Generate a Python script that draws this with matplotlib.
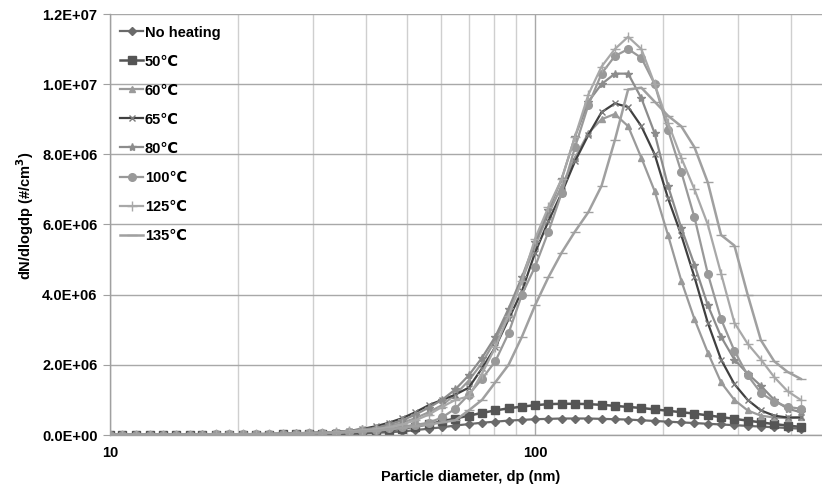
import matplotlib
matplotlib.use("Agg")
import matplotlib.pyplot as plt
from matplotlib.ticker import FixedLocator, FuncFormatter, NullFormatter

plt.rcParams['font.family'] = ['Liberation Sans', 'DejaVu Sans']
plt.rcParams['font.weight'] = 'bold'

# Particle diameter bins (nm)
diameter = [10.0, 10.7, 11.5, 12.4, 13.3, 14.3, 15.4, 16.5, 17.8, 19.1,
            20.5, 22.1, 23.7, 25.5, 27.4, 29.4, 31.6, 34.0, 36.5, 39.2,
            42.2, 45.3, 48.7, 52.3, 56.2, 60.4, 64.9, 69.8, 75.0, 80.6,
            86.6, 93.1, 100.0, 107.5, 115.5, 124.1, 133.4, 143.3, 154.0, 165.5,
            177.8, 191.1, 205.4, 220.7, 237.1, 254.8, 273.8, 294.3, 316.2, 339.8,
            365.2, 392.4, 421.7]

# dN/dlogdp values, in units of 1E+06 #/cm3
no_heating = [0.01, 0.01, 0.01, 0.01, 0.01, 0.01, 0.01, 0.01, 0.01, 0.01,
              0.01, 0.01, 0.01, 0.01, 0.01, 0.02, 0.02, 0.02, 0.03, 0.04,
              0.06, 0.08, 0.10, 0.14, 0.18, 0.22, 0.27, 0.31, 0.35, 0.38,
              0.41, 0.43, 0.45, 0.46, 0.47, 0.47, 0.47, 0.46, 0.45, 0.44,
              0.42, 0.40, 0.38, 0.36, 0.34, 0.32, 0.30, 0.28, 0.26, 0.24,
              0.22, 0.20, 0.18]
t50 = [0.01, 0.01, 0.01, 0.01, 0.01, 0.01, 0.01, 0.01, 0.01, 0.01,
       0.01, 0.01, 0.01, 0.02, 0.02, 0.02, 0.03, 0.03, 0.04, 0.06,
       0.09, 0.13, 0.18, 0.24, 0.31, 0.39, 0.47, 0.55, 0.63, 0.70,
       0.76, 0.81, 0.85, 0.88, 0.89, 0.89, 0.88, 0.86, 0.83, 0.80,
       0.77, 0.73, 0.69, 0.65, 0.61, 0.56, 0.51, 0.46, 0.41, 0.36,
       0.31, 0.27, 0.23]
t60 = [0.01, 0.01, 0.01, 0.01, 0.01, 0.01, 0.01, 0.01, 0.02, 0.02,
       0.02, 0.02, 0.03, 0.03, 0.04, 0.05, 0.06, 0.08, 0.10, 0.13,
       0.18, 0.25, 0.35, 0.48, 0.65, 0.85, 1.15, 1.55, 2.05, 2.70,
       3.50, 4.40, 5.40, 6.30, 7.10, 7.90, 8.60, 9.00, 9.15, 8.80,
       7.90, 6.95, 5.70, 4.40, 3.30, 2.35, 1.50, 1.00, 0.70, 0.55,
       0.50, 0.48, 0.50]
t65 = [0.01, 0.01, 0.01, 0.01, 0.01, 0.01, 0.01, 0.02, 0.02, 0.02,
       0.02, 0.03, 0.03, 0.04, 0.05, 0.06, 0.07, 0.09, 0.12, 0.17,
       0.25, 0.35, 0.48, 0.65, 0.85, 1.00, 1.15, 1.35, 1.90, 2.50,
       3.30, 4.10, 5.20, 6.10, 6.90, 7.80, 8.55, 9.20, 9.45, 9.35,
       8.80, 8.00, 6.75, 5.70, 4.50, 3.20, 2.15, 1.45, 1.00, 0.70,
       0.55, 0.50, 0.50]
t80 = [0.01, 0.01, 0.01, 0.01, 0.01, 0.01, 0.01, 0.02, 0.02, 0.02,
       0.02, 0.03, 0.03, 0.04, 0.05, 0.06, 0.07, 0.09, 0.12, 0.16,
       0.20, 0.30, 0.42, 0.58, 0.78, 1.00, 1.30, 1.70, 2.20, 2.80,
       3.60, 4.50, 5.50, 6.40, 7.30, 8.50, 9.50, 10.00, 10.30, 10.30,
       9.60, 8.60, 7.10, 5.90, 4.85, 3.70, 2.80, 2.15, 1.75, 1.40,
       1.00, 0.75, 0.65]
t100 = [0.01, 0.01, 0.01, 0.01, 0.01, 0.01, 0.01, 0.01, 0.02, 0.02,
        0.02, 0.02, 0.03, 0.03, 0.04, 0.05, 0.06, 0.07, 0.09, 0.12,
        0.15, 0.19, 0.24, 0.29, 0.35, 0.50, 0.75, 1.15, 1.60, 2.10,
        2.90, 4.00, 4.80, 5.80, 6.90, 8.20, 9.40, 10.30, 10.80, 11.00,
        10.75, 10.00, 8.70, 7.50, 6.20, 4.60, 3.30, 2.40, 1.70, 1.20,
        0.95, 0.80, 0.75]
t125 = [0.01, 0.01, 0.01, 0.01, 0.01, 0.01, 0.01, 0.01, 0.02, 0.02,
        0.02, 0.02, 0.03, 0.03, 0.04, 0.05, 0.06, 0.08, 0.10, 0.13,
        0.17, 0.22, 0.30, 0.42, 0.58, 0.80, 1.00, 1.10, 1.75, 2.50,
        3.40, 4.40, 5.60, 6.50, 7.30, 8.50, 9.70, 10.50, 11.00, 11.35,
        11.00, 10.00, 8.90, 7.90, 7.00, 6.00, 4.60, 3.20, 2.60, 2.15,
        1.65, 1.25, 1.00]
t135 = [0.01, 0.01, 0.01, 0.01, 0.01, 0.01, 0.01, 0.01, 0.01, 0.02,
        0.02, 0.02, 0.02, 0.03, 0.03, 0.04, 0.05, 0.06, 0.08, 0.10,
        0.12, 0.16, 0.20, 0.25, 0.30, 0.36, 0.42, 0.70, 1.00, 1.50,
        2.00, 2.80, 3.70, 4.50, 5.20, 5.80, 6.35, 7.10, 8.40, 9.85,
        9.90, 9.50, 9.10, 8.80, 8.20, 7.20, 5.70, 5.40, 4.00, 2.70,
        2.10, 1.80, 1.60]

labels = ['No heating', '50\u2103', '60\u2103', '65\u2103', '80\u2103', '100\u2103', '125\u2103', '135\u2103']
series = [no_heating, t50, t60, t65, t80, t100, t125, t135]
styles = [
    dict(color='#6a6a6a', marker='D', ms=4.5, lw=1.6),
    dict(color='#555555', marker='s', ms=5.5, lw=1.8),
    dict(color='#9a9a9a', marker='^', ms=5.0, lw=1.6),
    dict(color='#404040', marker='x', ms=5.0, lw=1.6, mec='#7a7a7a'),
    dict(color='#8c8c8c', marker='*', ms=6.0, lw=1.6),
    dict(color='#999999', marker='o', ms=5.5, lw=1.6),
    dict(color='#a8a8a8', marker='+', ms=6.5, lw=1.6),
    dict(color='#a0a0a0', marker='_', ms=6.5, lw=1.8),
]

FS = 10.5

fig = plt.figure(figsize=(8.22, 4.86), dpi=100)
ax = fig.add_axes([110/822, 1-435/486, 1-110/822, (435-14)/486])

for lab, vals, st in zip(labels, series, styles):
    ax.plot(diameter, [v * 1e6 for v in vals], label=lab, **st)

ax.set_xscale('log')
ax.set_xlim(10, 473)
ax.set_ylim(0, 1.2e7)
ax.xaxis.set_major_locator(FixedLocator([10, 100]))
ax.xaxis.set_major_formatter(FuncFormatter(lambda v, p: f'{v:g}'))
ax.xaxis.set_minor_locator(FixedLocator([20, 30, 40, 50, 60, 70, 80, 90, 200, 300, 400]))
ax.xaxis.set_minor_formatter(NullFormatter())
ax.set_yticks([0, 2e6, 4e6, 6e6, 8e6, 1.0e7, 1.2e7])
ax.yaxis.set_major_formatter(FuncFormatter(lambda v, p: f'{v:.1E}'))

ax.grid(True, which='major', axis='both', color='#a8a8a8', lw=1.0)
ax.grid(True, which='minor', axis='x', color='#cfcfcf', lw=1.0)
ax.set_axisbelow(True)

for s in ['top', 'right']:
    ax.spines[s].set_visible(False)
for s in ['left', 'bottom']:
    ax.spines[s].set_color('#a0a0a0')
    ax.spines[s].set_linewidth(1.0)

ax.tick_params(axis='y', which='major', length=5, color='#a0a0a0', labelsize=FS, pad=4)
ax.tick_params(axis='x', which='major', length=0, labelsize=FS, pad=8)
ax.tick_params(axis='x', which='minor', length=0)
for t in ax.get_xticklabels() + ax.get_yticklabels():
    t.set_fontweight('bold')

ax.set_xlabel('Particle diameter, dp (nm)', fontsize=FS, fontweight='bold', va='center')
ax.xaxis.set_label_coords((471 - 110) / 712, -42 / 421)
ax.set_ylabel('dN/dlogdp (#/cm$^\\mathbf{3}$)', fontsize=FS, fontweight='bold', va='center')
ax.yaxis.set_label_coords(-85 / 712, 0.52)

leg = ax.legend(loc='upper left', bbox_to_anchor=(0.004, 0.99), frameon=False,
                labelspacing=1.03, handlelength=1.6, handletextpad=0.1,
                borderpad=0.0, prop={'weight': 'bold', 'size': FS})

fig.savefig('out.png', dpi=100)
